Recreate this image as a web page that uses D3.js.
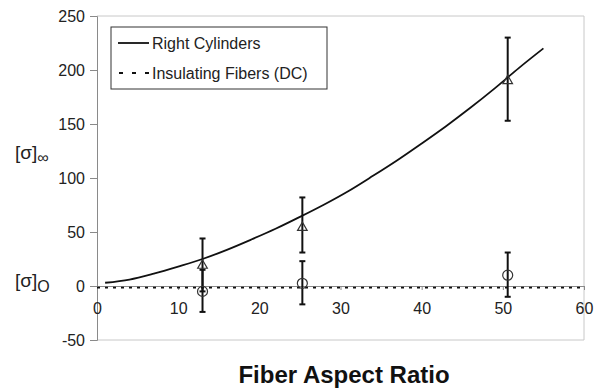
<!DOCTYPE html>
<html>
<head>
<meta charset="utf-8">
<script src="https://cdn.jsdelivr.net/npm/d3@7"></script>
<style>
  body { margin: 0; background: #fff; }
  svg { font-family: "Liberation Sans", Arial, sans-serif; }
</style>
</head>
<body>
<div id="chart"></div>
<script>
// Right cylinders model curve
const curveX = [1, 4, 7, 10, 13, 16, 19, 22, 25, 28, 31, 34, 37, 40, 43, 46, 49, 52, 55];
const curveY = [3, 6, 11.5, 18, 25, 33.5, 43, 53, 64, 75.5, 88, 102, 116.5, 132, 148, 165, 183, 202, 220];

// Insulating fibers (DC) line
const dcX = [0, 60];
const dcY = [-1.5, -1.5];

// measured points
const ratios = [13, 25.3, 50.6];
const infMean = [19, 54, 190];
const infLo = [-5, 31, 153];
const infHi = [44, 82, 230];
const zeroMean = [-5, 2.5, 10];
const zeroLo = [-24, -17, -10];
const zeroHi = [15, 23, 31];

const xTicks = [0, 10, 20, 30, 40, 50, 60];
const yTicks = [-50, 0, 50, 100, 150, 200, 250];

const width = 600, height = 390;
const margin = { top: 16, right: 16, bottom: 50, left: 97 };
const w = width - margin.left - margin.right;
const h = height - margin.top - margin.bottom;

const svg = d3.select('#chart').append('svg')
  .attr('width', width)
  .attr('height', height);

const x = d3.scaleLinear().domain([0, 60]).range([margin.left, margin.left + w]);
const y = d3.scaleLinear().domain([-50, 250]).range([margin.top + h, margin.top]);

// plot frame (top, right, bottom)
svg.append('path')
  .attr('d', `M${x(0)},${y(250)}H${x(60)}V${y(-50)}H${x(0)}`)
  .attr('fill', 'none')
  .attr('stroke', '#c8c8c8')
  .attr('stroke-width', 1);

// y axis
const yAxis = svg.append('g')
  .attr('transform', `translate(${x(0)},0)`)
  .call(d3.axisLeft(y).tickValues(yTicks).tickFormat(d => String(d)).tickSize(7).tickPadding(5));
yAxis.select('.domain').attr('stroke', '#8a8a8a');
yAxis.selectAll('.tick line').attr('stroke', '#8a8a8a');
yAxis.selectAll('.tick text').attr('font-size', 16).attr('fill', '#222');

// x axis on the zero line
const xAxis = svg.append('g')
  .attr('transform', `translate(0,${y(0)})`)
  .call(d3.axisBottom(x).tickValues(xTicks).tickSize(4).tickPadding(13).tickSizeOuter(0));
xAxis.select('.domain').attr('stroke', '#8a8a8a');
xAxis.selectAll('.tick line').attr('stroke', '#8a8a8a');
xAxis.selectAll('.tick text').attr('font-size', 16).attr('fill', '#222');

const line = d3.line().x(d => x(d[0])).y(d => y(d[1]));

// dashed DC line
svg.append('path')
  .datum(d3.zip(dcX, dcY))
  .attr('d', line)
  .attr('fill', 'none')
  .attr('stroke', '#111')
  .attr('stroke-width', 1.8)
  .attr('stroke-dasharray', '3,5');

// right cylinders curve
svg.append('path')
  .datum(d3.zip(curveX, curveY))
  .attr('d', line.curve(d3.curveMonotoneX))
  .attr('fill', 'none')
  .attr('stroke', '#111')
  .attr('stroke-width', 1.8);

// error bars
function errorBars(lo, hi) {
  const g = svg.append('g').attr('stroke', '#111').attr('stroke-width', 2);
  ratios.forEach((r, i) => {
    g.append('line').attr('x1', x(r)).attr('x2', x(r)).attr('y1', y(lo[i])).attr('y2', y(hi[i]));
    g.append('line').attr('x1', x(r) - 3).attr('x2', x(r) + 3).attr('y1', y(lo[i])).attr('y2', y(lo[i]));
    g.append('line').attr('x1', x(r) - 3).attr('x2', x(r) + 3).attr('y1', y(hi[i])).attr('y2', y(hi[i]));
  });
}
errorBars(infLo, infHi);
errorBars(zeroLo, zeroHi);

// triangle markers
svg.append('g').selectAll('path')
  .data(ratios)
  .join('path')
  .attr('d', d3.symbol(d3.symbolTriangle, 40))
  .attr('transform', (d, i) => `translate(${x(d)},${y(infMean[i])})`)
  .attr('fill', 'none')
  .attr('stroke', '#333')
  .attr('stroke-width', 1.2);

// circle markers
svg.append('g').selectAll('circle')
  .data(ratios)
  .join('circle')
  .attr('cx', d => x(d))
  .attr('cy', (d, i) => y(zeroMean[i]))
  .attr('r', 5)
  .attr('fill', 'none')
  .attr('stroke', '#333')
  .attr('stroke-width', 1.2);

// legend
const lg = svg.append('g');
lg.append('rect')
  .attr('x', 111).attr('y', 27).attr('width', 216).attr('height', 62)
  .attr('fill', '#fff').attr('stroke', '#333').attr('stroke-width', 1);
lg.append('line').attr('x1', 118).attr('x2', 149).attr('y1', 43).attr('y2', 43)
  .attr('stroke', '#111').attr('stroke-width', 1.8);
lg.append('line').attr('x1', 119).attr('x2', 149).attr('y1', 73).attr('y2', 73)
  .attr('stroke', '#111').attr('stroke-width', 1.8).attr('stroke-dasharray', '4,9');
lg.append('text').attr('x', 152).attr('y', 49).attr('font-size', 16).attr('fill', '#222').text('Right Cylinders');
lg.append('text').attr('x', 152).attr('y', 79).attr('font-size', 16).attr('fill', '#222').text('Insulating Fibers (DC)');

// y labels
const yl1 = svg.append('text').attr('x', 15).attr('y', 159).attr('font-size', 19).attr('fill', '#222');
yl1.append('tspan').text('[σ]');
yl1.append('tspan').attr('dy', 4).attr('font-size', 16).text('∞');
const yl2 = svg.append('text').attr('x', 15).attr('y', 287).attr('font-size', 19).attr('fill', '#222');
yl2.append('tspan').text('[σ]');
yl2.append('tspan').attr('dy', 5).attr('font-size', 16).text('O');

// x title
svg.append('text')
  .attr('x', 344).attr('y', 383)
  .attr('text-anchor', 'middle')
  .attr('font-size', 24).attr('font-weight', 'bold').attr('fill', '#111')
  .text('Fiber Aspect Ratio');
</script>
</body>
</html>
